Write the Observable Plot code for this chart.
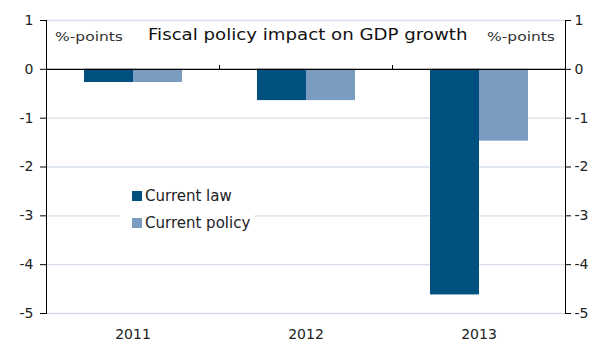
<!DOCTYPE html>
<html><head><meta charset="utf-8">
<script src="https://cdn.jsdelivr.net/npm/d3@7"></script>
<script src="https://cdn.jsdelivr.net/npm/@observablehq/plot@0.6"></script>
<style>
body{margin:0;background:#fff;font-family:"DejaVu Sans",Verdana,sans-serif;}
#wrap{position:relative;width:589px;height:341px;overflow:hidden;}
.t{position:absolute;white-space:nowrap;color:#222;line-height:1;transform-origin:0 0;}
.lg{position:absolute;background:#fff;}
.row{position:absolute;white-space:nowrap;line-height:1;font-size:15px;color:#222;}
.sw{display:inline-block;width:10px;height:10px;margin-right:3px;vertical-align:0;}
</style></head><body>
<div id="wrap"></div>
<script>
const years = ["2011", "2012", "2013"];
const seriesNames = ["Current law", "Current policy"];
const currentLaw = [-0.27, -0.64, -4.62];
const currentPolicy = [-0.27, -0.64, -1.47];
const yTicks = [1, 0, -1, -2, -3, -4, -5];
const colors = ["#00517f", "#7a9cc0"];
const titleText = "Fiscal policy impact on GDP growth";
const unitText = "%-points";

const data = [];
years.forEach((y, i) => {
  data.push({year: y, series: seriesNames[0], value: currentLaw[i]});
  data.push({year: y, series: seriesNames[1], value: currentPolicy[i]});
});

const fmt = d => String(d).replace("\u2212", "-");

const chart = Plot.plot({
  width: 589, height: 341,
  marginTop: 20, marginBottom: 28, marginLeft: 45, marginRight: 24,
  style: {fontFamily: "DejaVu Sans, Verdana, sans-serif", fontSize: "14px", color: "#222", background: "#fff"},
  fx: {domain: years, padding: 0, axis: "bottom", tickSize: 0, tickPadding: 16, label: null},
  x: {domain: seriesNames, paddingInner: 0, paddingOuter: 0.733, axis: null},
  y: {domain: [-5, 1], axis: null},
  color: {domain: seriesNames, range: colors},
  marks: [
    Plot.ruleY(yTicks.filter(d => d !== 0), {y: d => d, stroke: "#d6dfe9", strokeWidth: 1.3}),
    Plot.barY(data, {fx: "year", x: "series", y: "value", fill: "series"}),
    Plot.ruleY([0], {stroke: "#000", strokeWidth: 1.2}),
    Plot.frame({anchor: "left", insetTop: 45, insetBottom: 244, stroke: "#000"}),
    Plot.frame({anchor: "left", facetAnchor: "left", stroke: "#000"}),
    Plot.frame({anchor: "right", facetAnchor: "right", stroke: "#000"}),
    Plot.axisY({anchor: "left", ticks: yTicks, tickFormat: fmt, tickSize: 6, tickPadding: 7, stroke: "#000", label: null}),
    Plot.axisY({anchor: "right", ticks: yTicks, tickFormat: fmt, tickSize: 5, tickPadding: 4, stroke: "#000", label: null})
  ]
});

const wrap = document.getElementById("wrap");
wrap.appendChild(chart);

function addText(txt, left, top, size, color, sx) {
  const d = document.createElement("div");
  d.className = "t";
  d.textContent = txt;
  d.style.left = left + "px";
  d.style.top = top + "px";
  d.style.fontSize = size + "px";
  if (color) d.style.color = color;
  if (sx) d.style.transform = `scaleX(${sx})`;
  wrap.appendChild(d);
  return d;
}
addText(unitText, 55, 30.5, 12.5, "#333", 1.24);
addText(titleText, 148, 26.5, 16, "#111", 1.135);
addText(unitText, 487, 30.5, 12.5, "#333", 1.24);

const lg = document.createElement("div");
lg.className = "lg";
lg.style.left = "120px";
lg.style.top = "182px";
lg.style.width = "135px";
lg.style.height = "52px";
wrap.appendChild(lg);
seriesNames.forEach((s, i) => {
  const row = document.createElement("div");
  row.className = "row";
  row.style.left = "12px";
  row.style.top = (7 + i * 26.5) + "px";
  row.innerHTML = `<span class="sw" style="background:${colors[i]}"></span>${s}`;
  lg.appendChild(row);
});
</script>
</body></html>
